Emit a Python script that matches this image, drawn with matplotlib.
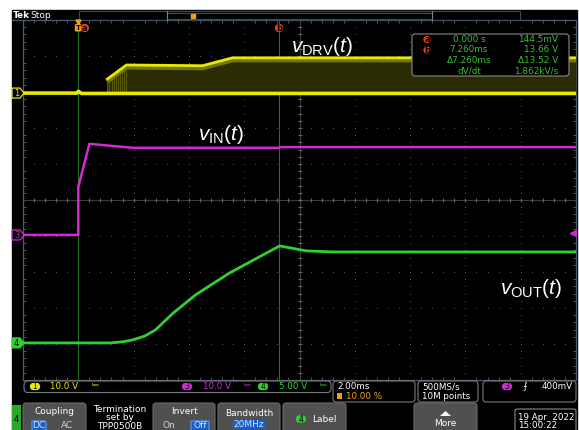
import numpy as np
import matplotlib.pyplot as plt
from matplotlib.patches import FancyBboxPatch, Rectangle, Polygon, Circle

plt.rcParams['mathtext.fontset'] = 'custom'
plt.rcParams['mathtext.rm'] = 'Liberation Sans'
plt.rcParams['mathtext.it'] = 'Liberation Sans:italic'

W, H = 579, 430

# time base: 2 ms/div, trigger at 10 %
t_min, t_max = -2.0, 18.0

# channel 1 (yellow) v_DRV, 10 V/div
drv_scale, drv_offset = 10.0, 2.97
drv_base_t = [-2.0, -0.05, 0.0, 0.12, 18.0]
drv_base_v = [0.0, 0.0, 0.5, -0.1, -0.1]
drv_top_t = [1.05, 1.74, 4.49, 5.58, 18.0]
drv_top_v = [3.9, 7.8, 7.6, 9.8, 9.8]

# channel 3 (magenta) v_IN, 10 V/div
in_scale, in_offset = 10.0, -0.97
in_t = [-2.0, 0.0, 0.0, 0.4, 1.96, 7.25, 7.3, 18.0]
in_v = [0.0, 0.0, 13.3, 25.3, 24.2, 24.2, 24.4, 24.4]
trig_level = 0.4

# channel 4 (green) v_OUT, 5 V/div
out_t = [-2.0, 1.16, 1.6, 2.0, 2.4, 2.79, 3.44, 4.24, 5.47, 7.28, 7.8, 8.26, 9.2, 18.0]
out_v = [0.0, 0.0, 0.15, 0.45, 0.95, 1.81, 4.17, 6.67, 9.72, 13.47, 13.1, 12.78, 12.64, 12.64]
out_scale, out_offset = 5.0, -3.97

cursor_a, cursor_b = 0.0, 7.26

readout_left = ['0.000 s', '7.260ms', 'Δ7.260ms', 'dV/dt']
readout_right = ['144.5mV', '13.66 V', 'Δ13.52 V', '1.862kV/s']

YEL, MAG, GRN = '#e8e800', '#d22ad2', '#2ed12e'
ORANGE, RED = '#f0a020', '#e8401a'
UI = 'DejaVu Sans'

fig = plt.figure(figsize=(W / 100, H / 100), dpi=100)
fig.patch.set_facecolor('white')

bg = fig.add_axes([0, 0, 1, 1], zorder=0)
bg.set_xlim(0, W)
bg.set_ylim(H, 0)
bg.axis('off')
bg.add_patch(Rectangle((12, 10), 565, 420, color='black'))
bg.plot([12, 23], [20, 20], color='#4a5a70', lw=0.9)

# ---- graticule ----
ax = fig.add_axes([23 / W, 1 - 380 / H, 553 / W, 360 / H], zorder=1)
ax.set_facecolor('black')
ax.set_xlim(t_min, t_max)
ax.set_ylim(-5, 5)
ax.set_xticks(np.arange(-2, 18.1, 2))
ax.set_xticks(np.arange(-2, 18.1, 0.4), minor=True)
ax.set_yticks(np.arange(-5, 5.1, 1))
ax.set_yticks(np.arange(-5, 5.1, 0.2), minor=True)
ax.tick_params(which='both', direction='in', colors='#5a6070', labelbottom=False,
               labelleft=False, top=True, right=True)
ax.tick_params(which='major', length=0)
ax.tick_params(which='minor', length=2.5, width=0.6)
for s in ax.spines.values():
    s.set_color('#4a5a70')
    s.set_linewidth(0.9)

gx = np.arange(0, 17, 2)
gy = np.arange(-4, 5, 1)
yy = np.arange(-5, 5.01, 0.2)
xx = np.arange(-2, 18.01, 0.4)
for x in gx:
    if x != 8:
        ax.scatter(np.full_like(yy, x), yy, s=0.5, color='#5c5c5c', lw=0, zorder=1)
for y in gy:
    if y != 0:
        ax.scatter(xx, np.full_like(xx, y), s=0.5, color='#5c5c5c', lw=0, zorder=1)
ax.axhline(0, color='#3c3c3c', lw=0.8, zorder=1)
ax.axvline(8, color='#3c3c3c', lw=0.8, zorder=1)
ax.scatter(xx, np.zeros_like(xx), marker='|', s=10, color='#6a6a5a', lw=0.8, zorder=1)
ax.scatter(np.full_like(yy, 8), yy, marker='_', s=10, color='#6a6a5a', lw=0.8, zorder=1)

# cursors
ax.axvline(cursor_a, color='#236b23', lw=0.8, zorder=2)
ax.axvline(cursor_b, color='#2d6b2d', lw=0.8, zorder=2)

# channel 1
base = np.array(drv_base_v) / drv_scale + drv_offset
top = np.array(drv_top_v) / drv_scale + drv_offset
ax.fill_between(drv_top_t, drv_offset, top, color='#2c2c04', lw=0, zorder=3)
st = np.linspace(drv_top_t[0], drv_top_t[1], 10)
ax.vlines(st, drv_offset, np.interp(st, drv_top_t, top), color='#5a5a0c', lw=0.7, zorder=3)
ax.plot(drv_top_t, top - 0.07, color='#74740e', lw=3, zorder=3, solid_capstyle='butt')
ax.plot(drv_top_t, top, color=YEL, lw=2, zorder=4)
ax.plot(drv_base_t, base, color=YEL, lw=2.6, zorder=4)

# channel 3
ax.plot(in_t, np.array(in_v) / in_scale + in_offset, color=MAG, lw=1.8, zorder=4)
ax.plot([t_max - 0.1], [trig_level / in_scale + in_offset], marker='<', ms=4, color=MAG,
        clip_on=False, zorder=6)

# channel 4
ax.plot(out_t, np.array(out_v) / out_scale + out_offset, color=GRN, lw=2, zorder=4)

# ---- overlay (pixel coordinates) ----
fg = fig.add_axes([0, 0, 1, 1], zorder=5)
fg.set_xlim(0, W)
fg.set_ylim(H, 0)
fg.axis('off')
fg.patch.set_alpha(0)


def px_x(t):
    return 23 + (t - t_min) / (t_max - t_min) * 553


def px_y(div):
    return 200 - div * 36


def flag(y, label, col, filled):
    pts = [(12, y - 5), (20, y - 5), (24, y), (20, y + 5), (12, y + 5)]
    fg.add_patch(Polygon(pts, closed=True, fc=col if filled else 'black', ec=col, lw=0.9))
    fg.text(16.5, y + 0.5, label, color='black' if filled else col, fontsize=6,
            ha='center', va='center', family=UI)


flag(px_y(drv_offset), '1', YEL, False)
flag(px_y(in_offset), '3', MAG, False)
flag(px_y(out_offset), '4', GRN, True)


def badge(x, y, letter, r=4.2):
    fg.add_patch(Circle((x, y), r, fc=RED, ec='none'))
    fg.text(x, y + 0.3, letter, color='black', fontsize=6, ha='center', va='center',
            family=UI, fontweight='bold')


xa, xb = px_x(cursor_a), px_x(cursor_b)
fg.plot([xa], [21.5], marker='v', ms=3.5, color=ORANGE)
fg.add_patch(FancyBboxPatch((xa - 3.5, 24), 6.5, 7.5, boxstyle='round,pad=0,rounding_size=1.2',
                            fc=ORANGE, ec='none'))
fg.text(xa - 0.3, 28, 'T', color='black', fontsize=5, ha='center', va='center', family=UI,
        fontweight='bold')
badge(xa + 6.5, 28, 'a')
badge(xb, 28, 'b')

# top status bar
fg.text(13, 15, 'Tek', color='white', fontsize=6.5, fontweight='bold', va='center', family=UI)
fg.text(30, 15, 'Stop', color='white', fontsize=6.5, va='center', family=UI)
fg.add_patch(Rectangle((79, 11), 441, 9, fc='none', ec='#3a4a60', lw=0.8))
fg.add_patch(Rectangle((167, 12.5), 265, 6.5, fc='none', ec='#1f6a1f', lw=0.8))
fg.plot([167, 167], [11, 20], color='#808080', lw=0.8)
fg.plot([432, 432], [11, 20], color='#808080', lw=0.8)
fg.plot([193], [15.5], marker='s', ms=3, color=ORANGE)

# channel labels
fg.text(291, 46, r'$v_{\mathrm{DRV}}(t)$', color='white', fontsize=15, va='center', ha='left')
fg.text(198, 134, r'$v_{\mathrm{IN}}(t)$', color='white', fontsize=15, va='center', ha='left')
fg.text(500, 288, r'$v_{\mathrm{OUT}}(t)$', color='white', fontsize=15, va='center', ha='left')

# cursor readout
fg.add_patch(FancyBboxPatch((412, 34), 157, 42, boxstyle='round,pad=0,rounding_size=3',
                            fc='black', ec='#8a8a8a', lw=0.8))
for i, (l, r) in enumerate(zip(readout_left, readout_right)):
    yy_ = 39.5 + i * 10.5
    fg.text(469, yy_, l, color='#36c036', fontsize=6.4, ha='center', va='center', family=UI)
    fg.text(558, yy_, r, color='#36c036', fontsize=6.4, ha='right', va='center', family=UI)
badge(427, 39.5, 'a', 3.6)
badge(427, 50, 'b', 3.6)


# bottom status row
def box(x, y, w, h, fc='black', ec='#7a7a7a', r=3):
    fg.add_patch(FancyBboxPatch((x, y), w, h, boxstyle=f'round,pad=0,rounding_size={r}',
                                fc=fc, ec=ec, lw=0.8))


def chip(x, y, label, col):
    fg.add_patch(FancyBboxPatch((x - 5, y - 3.6), 10, 7.2, boxstyle='round,pad=0,rounding_size=3.5',
                                fc=col, ec='none'))
    fg.text(x, y + 0.3, label, color='black', fontsize=5.5, ha='center', va='center', family=UI)


box(24, 381, 307, 11.5, r=4)
chip(35, 386.5, '1', YEL)
fg.text(50, 386.5, '10.0 V', color=YEL, fontsize=6.3, va='center', family=UI)
fg.text(91, 386, 'ᵇʷ', color=YEL, fontsize=6, va='center', family=UI)
chip(187, 386.5, '3', MAG)
fg.text(203, 386.5, '10.0 V', color=MAG, fontsize=6.3, va='center', family=UI)
fg.text(243, 386, 'ᵇʷ', color=MAG, fontsize=6, va='center', family=UI)
chip(263, 386.5, '4', GRN)
fg.text(279, 386.5, '5.00 V', color=GRN, fontsize=6.3, va='center', family=UI)
fg.text(320, 386, 'ᵇʷ', color=GRN, fontsize=6, va='center', family=UI)

box(333, 381, 82, 21)
fg.text(337, 386.5, '2.00ms', color='white', fontsize=6.3, va='center', family=UI)
fg.add_patch(Rectangle((337, 393), 5, 6, fc=ORANGE, ec='none'))
fg.text(346, 396.5, '10.00 %', color=ORANGE, fontsize=6.3, va='center', family=UI)
box(418, 381, 60, 21)
fg.text(422, 386.5, '500MS/s', color='white', fontsize=6.3, va='center', family=UI)
fg.text(422, 396.5, '10M points', color='white', fontsize=6.3, va='center', family=UI)
box(483, 381, 93, 21)
chip(507, 386.5, '3', MAG)
fg.text(525, 386.5, '⨍', color='white', fontsize=6.5, va='center', ha='center', family=UI)
fg.text(573, 386.5, '400mV', color='white', fontsize=6.3, va='center', ha='right', family=UI)

# bottom menu
fg.add_patch(Rectangle((12, 405), 9, 30, fc='#2aa82a', ec='none'))
fg.text(16.5, 419, '4', color='black', fontsize=6, ha='center', va='center', family=UI)
btn = '#505050'
box(23, 403, 63, 32, fc=btn, ec='#6a6a6a', r=3)
fg.text(54.5, 412, 'Coupling', color='white', fontsize=6.5, ha='center', va='center', family=UI)
box(32, 421, 14, 10, fc='#1c5fc8', ec='#5a9aff', r=1)
fg.text(39, 426, 'DC', color='#cfe0ff', fontsize=6.5, ha='center', va='center', family=UI)
fg.text(67, 426, 'AC', color='#d0d0d0', fontsize=6.5, ha='center', va='center', family=UI)
fg.text(120, 418, 'Termination\nset by\nTPP0500B', color='white', fontsize=6.5,
        ha='center', va='center', family=UI, linespacing=0.95)
box(153, 403, 62, 32, fc=btn, ec='#6a6a6a', r=3)
fg.text(184, 412, 'Invert', color='white', fontsize=6.5, ha='center', va='center', family=UI)
fg.text(169, 426, 'On', color='#d0d0d0', fontsize=6.5, ha='center', va='center', family=UI)
box(191, 421, 18, 10, fc='#1c5fc8', ec='#5a9aff', r=1)
fg.text(200, 426, 'Off', color='#cfe0ff', fontsize=6.5, ha='center', va='center', family=UI)
box(218, 403, 62, 32, fc=btn, ec='#6a6a6a', r=3)
fg.text(249, 414, 'Bandwidth', color='white', fontsize=6.5, ha='center', va='center', family=UI)
fg.add_patch(Rectangle((233, 420), 32, 9, fc='#1c5fc8', ec='none'))
fg.text(249, 424.5, '20MHz', color='#cfe0ff', fontsize=6.5, ha='center', va='center', family=UI)
box(283, 403, 63, 32, fc=btn, ec='#6a6a6a', r=3)
chip(301, 419, '4', GRN)
fg.text(312, 419, 'Label', color='white', fontsize=6.5, va='center', family=UI)
box(414, 403, 63, 32, fc=btn, ec='#6a6a6a', r=3)
fg.add_patch(Polygon([(440, 416), (445.5, 411), (451, 416)], closed=True, fc='white', ec='none'))
fg.text(445.5, 423, 'More', color='white', fontsize=6.5, ha='center', va='center', family=UI)
box(515, 409, 61, 25, fc='black', ec='#8a8a8a', r=2)
fg.text(518, 417.5, '19 Apr  2022', color='white', fontsize=6.3, va='center', family=UI)
fg.text(518, 425.5, '15:00:22', color='white', fontsize=6.3, va='center', family=UI)

fig.savefig('out.png', dpi=100, facecolor='white')
